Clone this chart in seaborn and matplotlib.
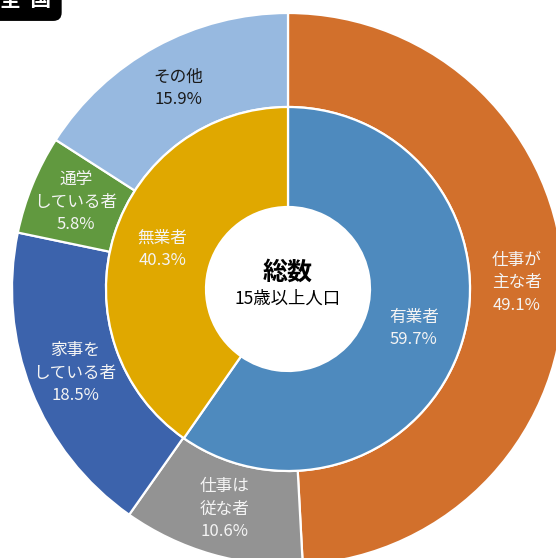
import numpy as np
import matplotlib.pyplot as plt
import seaborn as sns

sns.set_style("white")
plt.rcParams['font.family'] = ['Noto Sans CJK JP', 'DejaVu Sans']

# outer ring
outer_labels = ["仕事が\n主な者", "仕事は\n従な者", "家事を\nしている者", "通学\nしている者", "その他"]
outer_values = [49.1, 10.6, 18.5, 5.8, 15.9]
outer_colors = ["#D2702C", "#939393", "#3C63AC", "#61993F", "#97B9E0"]
outer_text = ["#f4f4f4", "#f4f4f4", "#f4f4f4", "#f4f4f4", "#1a1a1a"]

# inner ring
inner_labels = ["有業者", "無業者"]
inner_values = [59.7, 40.3]
inner_colors = ["#4E8ABE", "#E0A800"]

fig = plt.figure(figsize=(5.56, 5.58), dpi=100)
ax = fig.add_axes([0, 0, 1, 1])

R_out, R_mid, R_in = 276, 182, 82
wp = dict(edgecolor="white", linewidth=1.6)

w_out, _ = ax.pie(outer_values, radius=R_out, colors=outer_colors, startangle=90,
                  counterclock=False,
                  wedgeprops=dict(width=R_out - R_mid, **wp))
w_in, _ = ax.pie(inner_values, radius=R_mid, colors=inner_colors, startangle=90,
                 counterclock=False,
                 wedgeprops=dict(width=R_mid - R_in, **wp))

# pixel-like units: centre of the rings sits at (288, 289) from the top-left
ax.set_xlim(-288, 268)
ax.set_ylim(-269, 289)
ax.set_aspect("equal")
ax.axis("off")


def put_labels(wedges, labels, values, r, colors):
    for w, lab, v, c in zip(wedges, labels, values, colors):
        ang = np.deg2rad((w.theta1 + w.theta2) / 2)
        ax.text(r * np.cos(ang), r * np.sin(ang), f"{lab}\n{v:.1f}%",
                ha="center", va="center", color=c, fontsize=12, linespacing=1.4)


put_labels(w_out, outer_labels, outer_values, (R_out + R_mid) / 2, outer_text)
put_labels(w_in, inner_labels, inner_values, (R_mid + R_in) / 2, ["#f4f4f4", "#f4f4f4"])

ax.text(0, 16, "総数", ha="center", va="center", fontsize=18, fontweight="bold", color="black")
ax.text(0, -10, "15歳以上人口", ha="center", va="center", fontsize=12.5, color="black")

# cut-off title box at the top-left corner
fig.text(0.0, 1.0, "全  国", ha="left", va="center", fontsize=15, fontweight="bold", color="white",
         bbox=dict(boxstyle="round,pad=0.5,rounding_size=0.4", facecolor="black", edgecolor="none"))

fig.savefig("out.png", dpi=100)
